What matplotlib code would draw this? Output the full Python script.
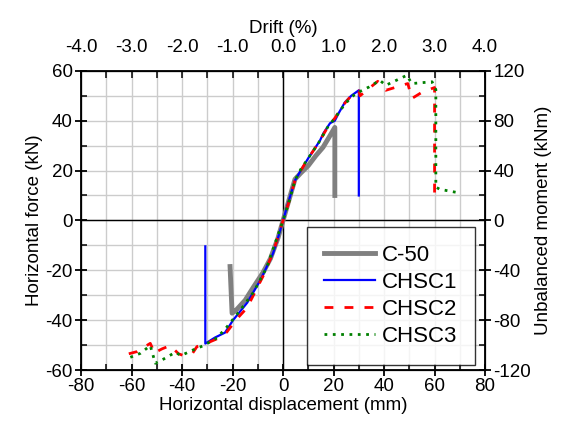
import numpy as np
import matplotlib
matplotlib.use("Agg")
import matplotlib.pyplot as plt
from matplotlib.ticker import MultipleLocator, FormatStrFormatter

plt.rcParams['font.family'] = ['Liberation Sans', 'DejaVu Sans']
plt.rcParams['font.size'] = 13
plt.rcParams['axes.unicode_minus'] = False

# Dados (deslocamento mm, força kN)
c50_x = [-21, -20.2, -18.6, -15, -11.9, -8, -5, -2, 0, 2, 4.7, 7, 10, 13, 15.8, 18, 20.5, 20.5]
c50_y = [-18.5, -37.2, -36, -32, -27, -21, -15.3, -7, 0, 7, 16.5, 19, 22, 26, 29.3, 33, 37.3, 10]

chsc1_x = [-30.8, -30.8, -27, -23, -19.8, -14.2, -9, -4, -2, 0, 2, 4.7, 7, 10, 12, 14.6,
           16, 18.6, 20.5, 22, 24.5, 27, 30, 30]
chsc1_y = [-10.4, -49.4, -47, -45, -40, -33, -24, -13.3, -7, 0, 7, 16, 20, 25, 28, 32,
           35, 39, 40, 43, 47.4, 50, 52.2, 10]

chsc2_x = [-61.1, -57.8, -52.6, -51.9, -51.3, -47.9, -44.7, -41.4, -39.4, -36, -34.1, -31.5,
           -26.2, -22.3, -18.3, -14.3, -7.8, -3.9, 0, 2.5, 4.7, 7, 10, 14, 18, 20.5, 24, 27,
           30, 30.5, 37.5, 40.7, 49.4, 51, 55, 60, 60]
chsc2_y = [-53.5, -52.6, -49.3, -50.9, -53.3, -51.5, -50.2, -53.5, -54.2, -53.5, -50.6, -49.8,
           -47.5, -44.8, -39.5, -35.1, -22.1, -12.7, 0, 8, 16, 20, 25, 31, 38, 41, 46.5, 50,
           52, 50, 55.8, 52.2, 54.9, 48.9, 51.4, 53.3, 10]

chsc3_x = [-60.5, -56.5, -52.6, -50.6, -47.3, -42.7, -40.4, -35.5, -31.5, -26.2, -22.3, -17,
           -11.7, -6.4, 0, 2.5, 4.7, 7, 10, 14, 18, 20.5, 24, 27, 30, 34, 38.3, 40.7, 49,
           51, 59, 60.5, 60.5, 62, 70]
chsc3_y = [-54.9, -53.3, -50.2, -57.3, -55.6, -52.9, -54.2, -51.9, -50.2, -47.1, -42.8, -36.1,
           -28.8, -18.7, 0, 8, 16, 20.5, 25, 31, 38, 41, 46, 49.5, 51.5, 53.5, 56.2, 54.2, 58.2,
           54.9, 55.6, 52.5, 13.4, 12.5, 11]

fig = plt.figure(figsize=(5.67, 4.28), dpi=100)
ax = fig.add_axes([0.143, 0.1355, 0.7125, 0.699])

# Grade e eixos zero
ax.grid(True, which='both', color='#cccccc', linewidth=1, zorder=0)
ax.axhline(0, color='black', linewidth=1, zorder=2)
ax.axvline(0, color='black', linewidth=1, zorder=2)

ax.plot(c50_x, c50_y, color='#808080', linewidth=3.5, label='C-50', zorder=3)
ax.plot(chsc1_x, chsc1_y, color='#0000ff', linewidth=1.6, label='CHSC1', zorder=4)
ax.plot(chsc2_x, chsc2_y, color='#ff0000', linewidth=2, dashes=(3.2, 4), label='CHSC2', zorder=5)
ax.plot(chsc3_x, chsc3_y, color='#008000', linewidth=2, dashes=(1, 2), label='CHSC3', zorder=6)

ax.set_xlim(-80, 80)
ax.set_ylim(-60, 60)
ax.xaxis.set_major_locator(MultipleLocator(20))
ax.xaxis.set_minor_locator(MultipleLocator(10))
ax.yaxis.set_major_locator(MultipleLocator(20))
ax.yaxis.set_minor_locator(MultipleLocator(10))
ax.tick_params(which='major', direction='inout', length=8, width=1.3, labelsize=13.5, pad=2)
ax.tick_params(which='minor', direction='in', length=4, width=1.1)
for s in ax.spines.values():
    s.set_linewidth(1.3)
ax.set_xlabel('Horizontal displacement (mm)', fontsize=13.5, labelpad=1)
ax.set_ylabel('Horizontal force (kN)', fontsize=13.5, labelpad=2)

# Eixo direito (momento)
ax2 = ax.twinx()
ax2.set_ylim(-120, 120)
ax2.yaxis.set_major_locator(MultipleLocator(40))
ax2.yaxis.set_minor_locator(MultipleLocator(20))
ax2.tick_params(which='major', direction='inout', length=8, width=1.3, labelsize=13.5, pad=2)
ax2.tick_params(which='minor', direction='in', length=4, width=1.1)
ax2.set_ylabel('Unbalanced moment (kNm)', fontsize=13.5, labelpad=3)

# Eixo superior (drift)
ax3 = ax.twiny()
ax3.set_xlim(-4, 4)
ax3.xaxis.set_major_locator(MultipleLocator(1))
ax3.xaxis.set_minor_locator(MultipleLocator(0.5))
ax3.xaxis.set_major_formatter(FormatStrFormatter('%.1f'))
ax3.tick_params(which='major', direction='in', length=5, width=1.1, labelsize=13.5, pad=11)
ax3.tick_params(which='minor', direction='in', length=5, width=1.1)
ax3.set_xlabel('Drift (%)', fontsize=13.5, labelpad=4)

leg = ax.legend(loc='lower right', bbox_to_anchor=(0.976, 0.017), borderaxespad=0,
                fontsize=16, frameon=True, fancybox=False, edgecolor='black',
                handlelength=2.3, labelspacing=0.27, borderpad=0.8, handletextpad=0.3)
leg.get_frame().set_linewidth(1)
leg.set_zorder(10)

fig.savefig('out.png', dpi=100)
